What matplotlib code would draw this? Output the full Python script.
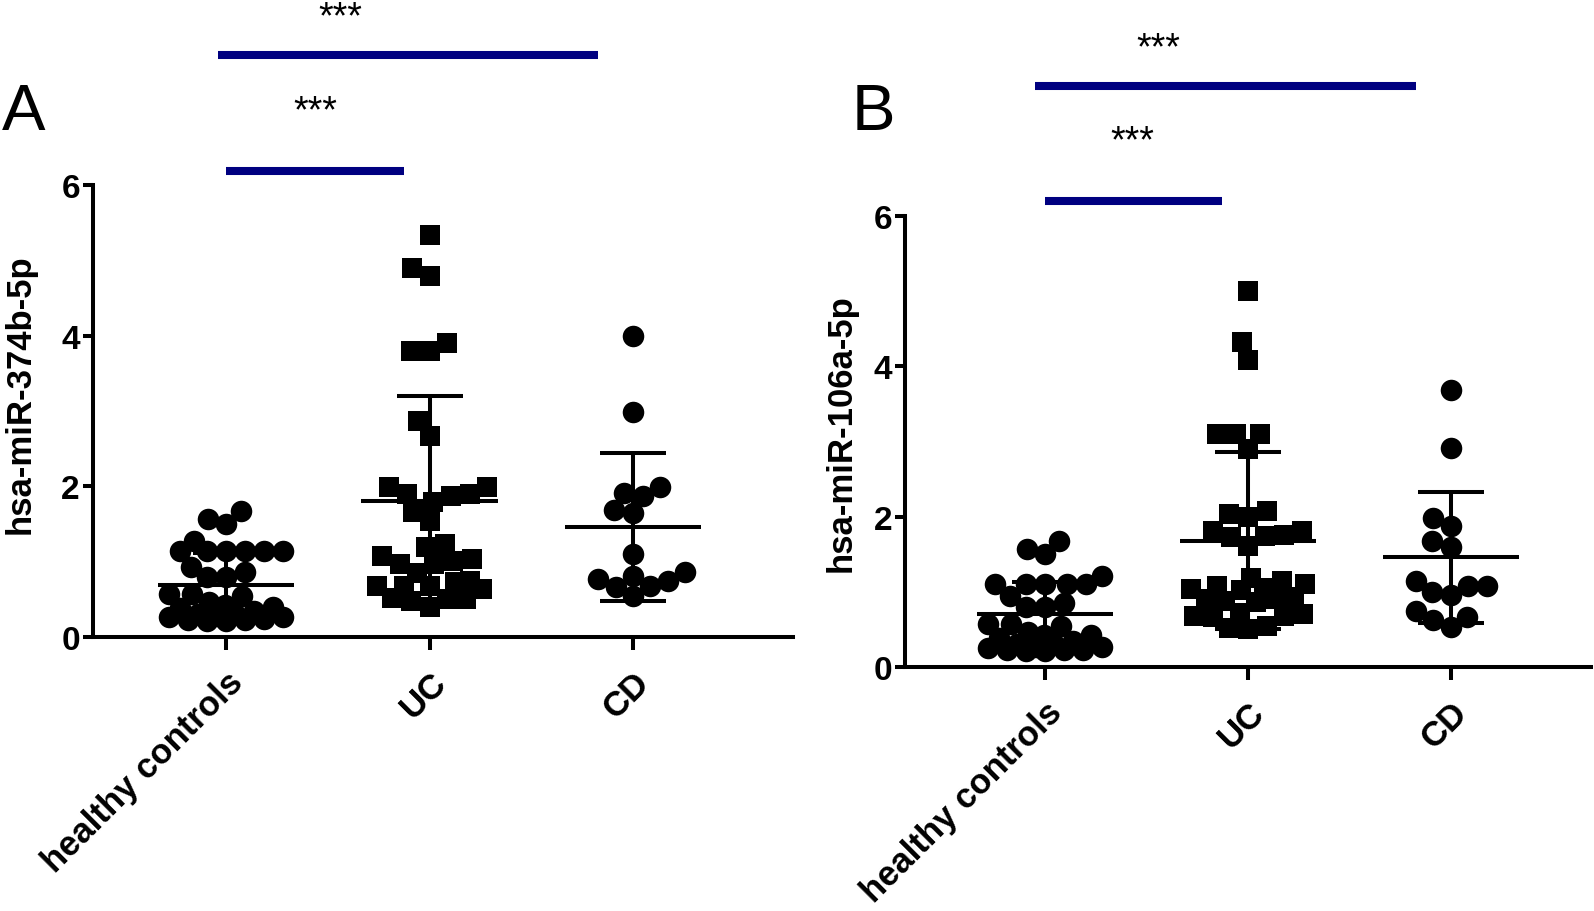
import numpy as np
import matplotlib
matplotlib.use("Agg")
import matplotlib.pyplot as plt

# values (relative expression)
categories = ["healthy controls", "UC", "CD"]

a_healthy = [1.67, 1.57, 1.50, 1.27, 1.14, 1.14, 1.14, 1.14, 1.14, 1.14,
             0.93, 0.86, 0.80, 0.80, 0.57, 0.57,
             0.55, 0.46, 0.42, 0.38, 0.35, 0.31, 0.28, 0.26, 0.24, 0.22,
             0.21, 0.21, 0.22, 0.26, 0.30, 0.40]
a_uc = [5.33, 4.90, 4.79, 3.90, 3.80, 3.80, 2.87, 2.67,
        1.99, 1.99, 1.90, 1.90, 1.87, 1.79, 1.66, 1.54,
        1.24, 1.20, 1.08, 1.03, 1.01, 0.97, 0.97, 0.85,
        0.74, 0.73, 0.68, 0.68, 0.68, 0.64, 0.52, 0.50, 0.50, 0.48, 0.40]
a_cd = [4.00, 2.99, 1.99, 1.91, 1.87, 1.68, 1.65, 1.10,
        0.86, 0.81, 0.77, 0.74, 0.68, 0.66, 0.55]
a_means = [0.69, 1.81, 1.46]
a_sds = [0.42, 1.39, 0.98]

b_healthy = [1.68, 1.57, 1.50, 1.21, 1.10, 1.10, 1.10, 1.10, 1.10,
             0.94, 0.85, 0.80, 0.80, 0.57, 0.57,
             0.55, 0.47, 0.43, 0.38, 0.34, 0.30, 0.27, 0.25, 0.23, 0.22,
             0.21, 0.21, 0.23, 0.26, 0.31, 0.42]
b_uc = [5.00, 4.32, 4.08, 3.10, 3.10, 3.10, 2.90, 2.07, 2.03, 1.99,
        1.81, 1.81, 1.75, 1.74, 1.73, 1.61,
        1.19, 1.14, 1.10, 1.08, 1.05, 1.04, 1.02, 0.93, 0.90, 0.90,
        0.88, 0.87, 0.72, 0.70, 0.68, 0.68, 0.66, 0.55, 0.52, 0.50]
b_cd = [3.68, 2.91, 1.98, 1.88, 1.68, 1.60, 1.14, 1.08, 1.08, 1.00,
        0.96, 0.75, 0.67, 0.53, 0.62]
b_means = [0.70, 1.68, 1.46]
b_sds = [0.43, 1.18, 0.87]

NAVY = "#000080"
plt.rcParams["font.family"] = ["Liberation Sans", "DejaVu Sans"]


def swarm_offsets(vals, ax, diam_px, half_width_px):
    # beeswarm limited to a fixed width: lowest values first, closest to centre,
    # overlapping only when the row is full (like Prism's scatter dot plot)
    p0, p1 = ax.transData.transform([[0, 0], [1, 1]])
    sx, sy = p1[0] - p0[0], p1[1] - p0[1]
    ys = np.asarray(vals) * sy
    grid = np.arange(-half_width_px, half_width_px + 0.5, 0.5)
    grid = grid[np.argsort(np.abs(grid), kind="stable")]
    placed_x, placed_y = [], []
    xs = np.zeros(len(ys))
    for i in np.argsort(ys, kind="stable"):
        y = ys[i]
        if placed_x:
            px, py = np.array(placed_x), np.array(placed_y)
            d = np.sqrt((grid[:, None] - px[None, :]) ** 2 + (y - py[None, :]) ** 2).min(axis=1)
            ok = np.where(d >= diam_px)[0]
            xs[i] = grid[ok[0]] if len(ok) else grid[np.argmax(d)]
        placed_x.append(xs[i])
        placed_y.append(y)
    return xs / sx


def panel(ax, groups, means, sds, ylabel, xlim):
    ax.set_xlim(*xlim)
    ax.set_ylim(0, 6)
    markers = ["o", "s", "o"]
    for k, (vals, m) in enumerate(zip(groups, markers)):
        offs = swarm_offsets(vals, ax, 19, 57)
        ax.plot(k + offs, vals, linestyle="none", marker=m,
                markersize=15.5 if m == "o" else 15, color="black",
                markeredgewidth=0, clip_on=False, zorder=3)
        ax.plot([k - 0.335, k + 0.335], [means[k]] * 2, color="black",
                lw=2.9, solid_capstyle="butt", zorder=4)
        ax.errorbar(k, means[k], yerr=sds[k], fmt="none", ecolor="black",
                    elinewidth=2.9, capsize=24, capthick=2.9, zorder=4)
    for s in ["top", "right"]:
        ax.spines[s].set_visible(False)
    for s in ["left", "bottom"]:
        ax.spines[s].set_linewidth(2.9)
    ax.set_yticks([0, 2, 4, 6])
    ax.set_xticks(range(3))
    ax.set_xticklabels(categories, rotation=45, ha="right",
                       rotation_mode="anchor", fontsize=25, fontweight="bold")
    ax.tick_params(axis="y", length=7, width=2.9, labelsize=24, pad=2)
    ax.tick_params(axis="x", length=9, width=2.9, pad=11)
    for t in ax.get_yticklabels():
        t.set_fontweight("bold")
    ax.set_ylabel(ylabel, fontsize=25, fontweight="bold")


fig = plt.figure(figsize=(15.94, 9.12), dpi=100)
W, H = 1594, 912
axA = fig.add_axes([92.5 / W, 1 - 638 / H, 700.5 / W, 452 / H])
axB = fig.add_axes([905 / W, 1 - 668 / H, 686 / W, 451 / H])

panel(axA, [a_healthy, a_uc, a_cd], a_means, a_sds, "hsa-miR-374b-5p", (-0.656, 2.786))
panel(axB, [b_healthy, b_uc, b_cd], b_means, b_sds, "hsa-miR-106a-5p", (-0.69, 2.69))
axA.yaxis.set_label_coords(-0.08, 0.54)
axB.yaxis.set_label_coords(-0.069, 0.52)

# significance bars and panel letters
for ax, bars, stars in [
    (axA, [(-0.04, 1.83, 7.72), (0.0, 0.875, 6.19)], [(0.56, 8.22), (0.44, 6.98)]),
    (axB, [(-0.05, 1.83, 7.73), (0.0, 0.87, 6.20)], [(0.56, 8.23), (0.43, 6.99)]),
]:
    for x0, x1, y in bars:
        ax.plot([x0, x1], [y, y], color=NAVY, lw=5.8, solid_capstyle="butt", clip_on=False)
    for x, y in stars:
        ax.text(x, y, "***", ha="center", va="center", fontsize=27, clip_on=False)

fig.text(2 / W, 1 - 130 / H, "A", fontsize=47, ha="left", va="baseline")
fig.text(852 / W, 1 - 130 / H, "B", fontsize=47, ha="left", va="baseline")

fig.savefig("out.png", dpi=100)
